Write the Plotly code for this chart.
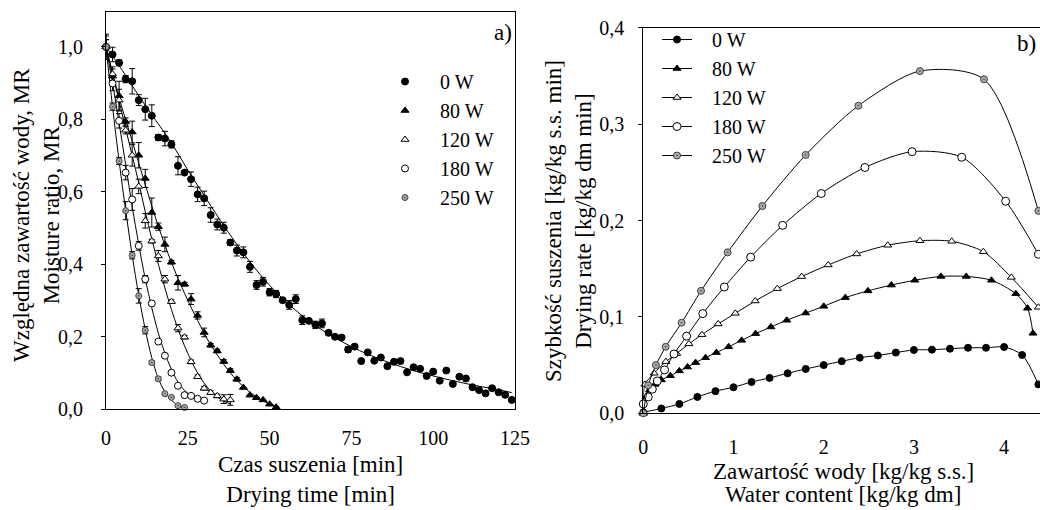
import plotly.graph_objects as go

# ---------------- Panel a) : moisture ratio vs drying time ----------------
t_0W = [0,2,4,6,8,10,12,14,16,18,20,22,24,26,28,30,32,34,36,38,40,42,44,46,48,50,52,54,56,58,60,
        62,64,66,68,70,72,74,76,78,80,82,84,86,88,90,92,94,96,98,100,102,104,106,108,110,112,114,116,118,120,122,124]
mr_0W = [1.0,0.979,0.956,0.911,0.905,0.853,0.828,0.810,0.750,0.747,0.731,0.672,0.653,0.635,0.593,0.582,
         0.536,0.510,0.501,0.460,0.438,0.433,0.393,0.343,0.352,0.323,0.318,0.301,0.288,0.304,0.246,0.244,
         0.233,0.237,0.211,0.200,0.198,0.165,0.173,0.133,0.157,0.134,0.143,0.119,0.131,0.133,0.102,0.116,
         0.112,0.092,0.104,0.079,0.107,0.070,0.090,0.085,0.061,0.053,0.044,0.058,0.047,0.040,0.026]
err_0W = [0.035,0.02,0.008,0.01,0.035,0.015,0.03,0.03,0.008,0.02,0.01,0.025,0.005,0.02,0.02,0.02,0.02,
          0.015,0.015,0.008,0.015,0.015,0.015,0.012,0.012,0.01,0.01,0.005,0.012,0.012,0.012,0.005,0.01,
          0.012,0.005,0.005,0.005,0.008,0.005,0,0,0,0,0,0,0,0,0,0,0,0,0,0,0,0,0,0,0,0,0,0,0,0]

t_80W = [0,2,4,6,8,10,12,14,16,18,20,22,24,26,28,30,32,34,36,38,40,42,44,46,48,50,52]
mr_80W = [1.0,0.919,0.865,0.794,0.765,0.701,0.637,0.543,0.504,0.455,0.406,0.349,0.345,0.304,0.259,0.212,
          0.177,0.161,0.132,0.107,0.083,0.060,0.039,0.032,0.026,0.014,0.006]
err_80W = [0.03,0.02,0.04,0.01,0.03,0.035,0.025,0.04,0.01,0.02,0.005,0.02,0.005,0.015,0.01,0.012,
           0.005,0.005,0.005,0.005,0.005,0,0,0,0,0,0]

t_120W = [0,2,4,6,8,10,12,14,16,18,20,22,24,26,28,30,32,34,36,38]
mr_120W = [1.0,0.925,0.853,0.770,0.701,0.615,0.520,0.464,0.423,0.359,0.297,0.224,0.199,0.131,0.090,
           0.058,0.046,0.037,0.028,0.026]
err_120W = [0.02,0.02,0.03,0.01,0.03,0.02,0.02,0.005,0.015,0.01,0.005,0.01,0.005,0.005,0.005,0.005,
            0.005,0.005,0.012,0.015]

t_180W = [0,2,4,6,8,10,12,14,16,18,20,22,24,26,28,30]
mr_180W = [1.0,0.899,0.796,0.653,0.579,0.451,0.359,0.292,0.187,0.148,0.101,0.065,0.039,0.037,0.029,0.024]
err_180W = [0.02,0.02,0.02,0.02,0.03,0.012,0.01,0.005,0.005,0.005,0.003,0,0,0,0,0]

t_250W = [0,2,4,6,8,10,12,14,16,18,20,22,24]
mr_250W = [1.0,0.835,0.685,0.548,0.425,0.313,0.218,0.129,0.084,0.043,0.033,0.010,0.005]
err_250W = [0.02,0.01,0.01,0.025,0.01,0.02,0.01,0.005,0.005,0.003,0,0,0]

# fitted model curves
fit_t_0W = [0,5,10,15,20,25,30,35,40,45,50,55,60,65,70,75,80,85,90,95,100,105,110,115,120,124]
fit_0W = [1.0,0.935,0.865,0.80,0.735,0.66,0.59,0.52,0.455,0.395,0.342,0.297,0.258,0.225,0.197,0.173,
          0.152,0.134,0.118,0.104,0.092,0.081,0.071,0.062,0.054,0.046]
fit_t_80W = [0,4,8,12,16,20,24,28,32,36,40,44,48,52]
fit_80W = [1.0,0.86,0.74,0.62,0.505,0.405,0.32,0.245,0.178,0.124,0.08,0.047,0.023,0.009]
fit_t_120W = [0,2,4,6,8,10,12,14,16,18,20,22,24,26,28,30,32,34,36,38]
fit_120W = [1.0,0.925,0.85,0.775,0.70,0.625,0.545,0.47,0.40,0.335,0.275,0.222,0.175,0.135,0.10,
            0.072,0.05,0.034,0.022,0.015]
fit_t_180W = [0,2,4,6,8,10,12,14,16,18,20,22,24,26,28,30]
fit_180W = [1.0,0.90,0.79,0.675,0.56,0.455,0.36,0.28,0.21,0.155,0.11,0.075,0.052,0.037,0.028,0.022]
fit_t_250W = [0,2,4,6,8,10,12,14,16,18,20,22,24]
fit_250W = [1.0,0.835,0.685,0.55,0.425,0.315,0.22,0.142,0.085,0.048,0.025,0.011,0.004]

# ---------------- Panel b) : drying rate vs water content ----------------
wc_0W = [0,0.2,0.4,0.6,0.8,1.0,1.2,1.4,1.6,1.8,2.0,2.2,2.4,2.6,2.8,3.0,3.2,3.4,3.6,3.8,4.0,4.2,4.38]
dr_0W = [0.001,0.005,0.0097,0.017,0.023,0.027,0.0325,0.0367,0.0415,0.046,0.050,0.054,0.0577,0.060,
         0.063,0.0657,0.066,0.067,0.068,0.068,0.0688,0.0605,0.03]
wc_80W = [0,0.03,0.07,0.13,0.2,0.3,0.4,0.49,0.58,0.69,0.81,0.946,1.09,1.245,1.415,1.59,1.8,2.0,2.24,
          2.49,2.75,3.01,3.3,3.58,3.86,4.13,4.26,4.32]
dr_80W = [0.0,0.017,0.024,0.03,0.0346,0.039,0.044,0.048,0.0526,0.0577,0.063,0.069,0.0757,0.0826,
          0.0896,0.0965,0.104,0.111,0.12,0.127,0.133,0.138,0.142,0.142,0.138,0.124,0.109,0.083]
wc_120W = [0,0.018,0.12,0.25,0.37,0.506,0.65,0.83,1.02,1.24,1.486,1.755,2.05,2.365,2.71,3.067,3.42,
           3.77,4.08,4.38]
dr_120W = [0.0,0.03,0.0415,0.0536,0.062,0.072,0.0816,0.0927,0.1037,0.1165,0.1293,0.1418,0.1539,
           0.1653,0.1743,0.179,0.1784,0.1677,0.141,0.110]
wc_180W = [0,0.055,0.10,0.155,0.236,0.34,0.48,0.66,0.898,1.19,1.545,1.973,2.457,2.98,3.53,4.017,4.38]
dr_180W = [0.0097,0.017,0.025,0.0335,0.045,0.0615,0.080,0.1034,0.131,0.162,0.195,0.228,0.255,0.2714,
           0.2656,0.22,0.165]
wc_250W = [0,0.055,0.14,0.248,0.425,0.64,0.935,1.32,1.80,2.384,3.067,3.777,4.38]
dr_250W = [0.0,0.029,0.050,0.069,0.094,0.127,0.167,0.215,0.268,0.319,0.355,0.3465,0.210]

labels = ["0 W", "80 W", "120 W", "180 W", "250 W"]

W, H = 1040, 510
FONT = "Liberation Serif"
NB = "\u00a0\u00a0\u00a0"

styles = [
    dict(symbol="circle", color="black", line=dict(color="black", width=1)),
    dict(symbol="triangle-up", color="black", line=dict(color="black", width=1)),
    dict(symbol="triangle-up", color="white", line=dict(color="black", width=1)),
    dict(symbol="circle", color="white", line=dict(color="black", width=1)),
    dict(symbol="circle-dot", color="#a8a8a8", line=dict(color="#404040", width=1)),
]
sizes_a = [7, 7, 7, 7, 6]
sizes_b = [7, 7, 7, 8, 7]

fig = go.Figure()

series_a = [(t_0W, mr_0W, err_0W), (t_80W, mr_80W, err_80W), (t_120W, mr_120W, err_120W),
            (t_180W, mr_180W, err_180W), (t_250W, mr_250W, err_250W)]
fits_a = [(fit_t_0W, fit_0W), (fit_t_80W, fit_80W), (fit_t_120W, fit_120W),
          (fit_t_180W, fit_180W), (fit_t_250W, fit_250W)]

for (fx, fy) in fits_a:
    fig.add_trace(go.Scatter(x=fx, y=fy, mode="lines", line=dict(color="black", width=1, shape="spline"),
                             showlegend=False, xaxis="x", yaxis="y", cliponaxis=False, hoverinfo="skip"))

for i, (tx, ty, te) in enumerate(series_a):
    fig.add_trace(go.Scatter(
        x=tx, y=ty, mode="markers", name=NB + labels[i],
        marker=dict(size=sizes_a[i], **styles[i]),
        error_y=dict(type="data", array=te, visible=True, color="black", thickness=1, width=3),
        xaxis="x", yaxis="y", legend="legend", cliponaxis=False))

series_b = [(wc_0W, dr_0W), (wc_80W, dr_80W), (wc_120W, dr_120W), (wc_180W, dr_180W), (wc_250W, dr_250W)]
for i, (bx, by) in enumerate(series_b):
    fig.add_trace(go.Scatter(
        x=bx, y=by, mode="lines+markers", name=NB + labels[i],
        line=dict(color="black", width=1, shape="spline", smoothing=0.8),
        marker=dict(size=sizes_b[i], **styles[i]),
        xaxis="x2", yaxis="y2", legend="legend2", cliponaxis=False))

axis_common = dict(showgrid=False, zeroline=False, showline=True, linecolor="black", linewidth=1,
                   automargin=False, tickfont=dict(family=FONT, size=20, color="black"))

fig.update_layout(
    width=W, height=H,
    margin=dict(l=0, r=0, t=0, b=0, pad=0, autoexpand=False),
    paper_bgcolor="white", plot_bgcolor="white",
    separators=", ",
    font=dict(family=FONT, color="black", size=20),
    xaxis=dict(domain=[106/W, 515/W], range=[0, 125], tickvals=[0, 25, 50, 75, 100, 125],
               ticks="", ticklabelstandoff=11, mirror=True, anchor="y", **axis_common),
    yaxis=dict(domain=[(H-409.3)/H, (H-11.7)/H], range=[0, 1.097], tickvals=[0, 0.2, 0.4, 0.6, 0.8, 1.0],
               tickformat=".1f", ticks="outside", ticklen=4, tickcolor="black", ticklabelstandoff=14,
               mirror=True, anchor="x", **axis_common),
    xaxis2=dict(domain=[643.3/W, 1.0], range=[0, (W-643.3)/90.2], tickvals=[0, 1, 2, 3, 4],
                ticks="", ticklabelstandoff=16, mirror=True, anchor="y2", **axis_common),
    yaxis2=dict(domain=[(H-413.3)/H, (H-27.7)/H], range=[0, 0.4], tickvals=[0, 0.1, 0.2, 0.3, 0.4],
                tickformat=".1f", ticks="outside", ticklen=4, tickcolor="black", ticklabelstandoff=10,
                mirror=False, anchor="x2", **axis_common),
    legend=dict(x=385/W, y=1-62/H, xanchor="left", yanchor="top", bgcolor="rgba(0,0,0,0)",
                font=dict(family=FONT, size=20, color="black"), tracegroupgap=0, borderwidth=0),
    legend2=dict(x=657/W, y=1-20/H, xanchor="left", yanchor="top", bgcolor="rgba(0,0,0,0)",
                 font=dict(family=FONT, size=20, color="black"), tracegroupgap=0, borderwidth=0),
)

ann_font = dict(family=FONT, size=23, color="black")
annotations = [
    dict(text="Czas suszenia [min]<br>Drying time [min]", x=310/W, y=1-479/H, xref="paper", yref="paper",
         xanchor="center", yanchor="middle", showarrow=False, font=ann_font),
    dict(text="Zawartość wody [kg/kg s.s.]", x=843/W, y=1-471/H,
         xref="paper", yref="paper", xanchor="center", yanchor="middle", showarrow=False, font=ann_font),
    dict(text="Water content [kg/kg dm]", x=843/W, y=1-494/H,
         xref="paper", yref="paper", xanchor="center", yanchor="middle", showarrow=False, font=ann_font),
    dict(text="Względna zawartość wody, MR<br>Moisture ratio, MR", x=36/W, y=1-215/H, xref="paper",
         yref="paper", xanchor="center", yanchor="middle", textangle=-90, showarrow=False, font=ann_font),
    dict(text="Szybkość suszenia [kg/kg s.s. min]<br>Drying rate [kg/kg dm min]", x=568/W, y=1-221/H,
         xref="paper", yref="paper", xanchor="center", yanchor="middle", textangle=-90, showarrow=False,
         font=ann_font),
    dict(text="a)", x=514/W, y=1-33/H, xref="paper", yref="paper", xanchor="right", yanchor="middle",
         showarrow=False, font=ann_font),
    dict(text="b)", x=1038/W, y=1-43/H, xref="paper", yref="paper", xanchor="right", yanchor="middle",
         showarrow=False, font=ann_font),
]
fig.update_layout(annotations=annotations)

fig.write_html("out.html", config={"displayModeBar": False},
               post_script="document.body.style.margin='0px';document.body.style.overflow='hidden';")
